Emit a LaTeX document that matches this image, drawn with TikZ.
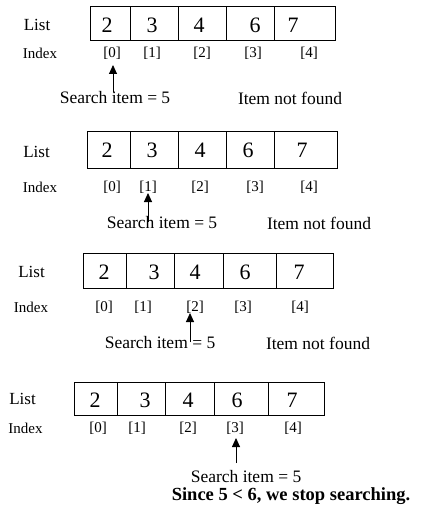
\documentclass[tikz,border=0pt]{standalone}
\usepackage{fontspec}
\setmainfont{Liberation Serif}
\usetikzlibrary{arrows.meta}
\tikzset{
  cellbox/.style={draw, line width=1pt, inner sep=0pt},
  digit/.style={font=\fontsize{22}{24}\selectfont, inner sep=0pt},
  lbl/.style={font=\fontsize{17}{20}\selectfont, inner sep=0pt},
  idxlbl/.style={font=\fontsize{15}{18}\selectfont, inner sep=0pt},
  idx/.style={font=\fontsize{15}{18}\selectfont, inner sep=0pt},
  txt/.style={font=\fontsize{17.5}{20}\selectfont, inner sep=0pt},
  boldtxt/.style={font=\fontsize{18.5}{22}\selectfont\bfseries, inner sep=0pt},
  pointer/.style={line width=0.9pt, -{Triangle[length=9pt,width=8pt]}}
}
\begin{document}
\begin{tikzpicture}[x=1pt,y=-1pt]
\useasboundingbox[fill=white] (0,0) rectangle (439,513);

% ---------- Panel 1 ----------
\node[cellbox, minimum width=40pt, minimum height=34pt] (p1c0) at (110,24) {};
\node[cellbox, minimum width=48pt, minimum height=34pt] (p1c1) at (154,24) {};
\node[cellbox, minimum width=48pt, minimum height=34pt] (p1c2) at (202,24) {};
\node[cellbox, minimum width=48pt, minimum height=34pt] (p1c3) at (250,24) {};
\node[cellbox, minimum width=61pt, minimum height=34pt] (p1c4) at (304.5,24) {};
\node[digit] (p1d0) at (107,25) {2};
\node[digit] (p1d1) at (152,25) {3};
\node[digit] (p1d2) at (199,25) {4};
\node[digit] (p1d3) at (255,25) {6};
\node[digit] (p1d4) at (293,25) {7};
\node[lbl] (p1list) at (37,25) {List};
\node[idxlbl] (p1index) at (40,53) {Index};
\node[idx] (p1i0) at (112,53) {[0]};
\node[idx] (p1i1) at (152,53) {[1]};
\node[idx] (p1i2) at (202,53) {[2]};
\node[idx] (p1i3) at (253,53) {[3]};
\node[idx] (p1i4) at (309,53) {[4]};
\coordinate (p1at) at (113,65);
\coordinate (p1ab) at (113,92);
\draw[pointer] (p1ab) -- (p1at);
\node[txt] (p1s) at (115,98) {Search item = 5};
\node[txt] (p1n) at (290,98) {Item not found};

% ---------- Panel 2 ----------
\node[cellbox, minimum width=43pt, minimum height=36pt] (p2c0) at (108.5,150) {};
\node[cellbox, minimum width=48pt, minimum height=36pt] (p2c1) at (154,150) {};
\node[cellbox, minimum width=48pt, minimum height=36pt] (p2c2) at (202,150) {};
\node[cellbox, minimum width=48pt, minimum height=36pt] (p2c3) at (250,150) {};
\node[cellbox, minimum width=63pt, minimum height=36pt] (p2c4) at (305.5,150) {};
\node[digit] (p2d0) at (107,150.5) {2};
\node[digit] (p2d1) at (152,150.5) {3};
\node[digit] (p2d2) at (200,150.5) {4};
\node[digit] (p2d3) at (248,150.5) {6};
\node[digit] (p2d4) at (302,150.5) {7};
\node[lbl] (p2list) at (36.5,152) {List};
\node[idxlbl] (p2index) at (40,187) {Index};
\node[idx] (p2i0) at (112,187) {[0]};
\node[idx] (p2i1) at (148,187) {[1]};
\node[idx] (p2i2) at (200,187) {[2]};
\node[idx] (p2i3) at (255,187) {[3]};
\node[idx] (p2i4) at (309,187) {[4]};
\coordinate (p2at) at (148,193);
\coordinate (p2ab) at (148,222);
\draw[pointer] (p2ab) -- (p2at);
\node[txt] (p2s) at (162,223) {Search item = 5};
\node[txt] (p2n) at (319,223) {Item not found};

% ---------- Panel 3 ----------
\node[cellbox, minimum width=43pt, minimum height=35pt] (p3c0) at (104.5,270.5) {};
\node[cellbox, minimum width=48pt, minimum height=35pt] (p3c1) at (150,270.5) {};
\node[cellbox, minimum width=49pt, minimum height=35pt] (p3c2) at (198.5,270.5) {};
\node[cellbox, minimum width=53pt, minimum height=35pt] (p3c3) at (249.5,270.5) {};
\node[cellbox, minimum width=57pt, minimum height=35pt] (p3c4) at (304.5,270.5) {};
\node[digit] (p3d0) at (104,272.5) {2};
\node[digit] (p3d1) at (154,272.5) {3};
\node[digit] (p3d2) at (195,272.5) {4};
\node[digit] (p3d3) at (245,272.5) {6};
\node[digit] (p3d4) at (299,272.5) {7};
\node[lbl] (p3list) at (31.5,272) {List};
\node[idxlbl] (p3index) at (31,307) {Index};
\node[idx] (p3i0) at (104,307) {[0]};
\node[idx] (p3i1) at (143,307) {[1]};
\node[idx] (p3i2) at (195,307) {[2]};
\node[idx] (p3i3) at (243,307) {[3]};
\node[idx] (p3i4) at (300,307) {[4]};
\coordinate (p3at) at (190,313);
\coordinate (p3ab) at (190,342);
\draw[pointer] (p3ab) -- (p3at);
\node[txt] (p3s) at (160,343) {Search item = 5};
\node[txt] (p3n) at (318,343) {Item not found};

% ---------- Panel 4 ----------
\node[cellbox, minimum width=43pt, minimum height=33pt] (p4c0) at (95.5,398.5) {};
\node[cellbox, minimum width=48pt, minimum height=33pt] (p4c1) at (141,398.5) {};
\node[cellbox, minimum width=49pt, minimum height=33pt] (p4c2) at (189.5,398.5) {};
\node[cellbox, minimum width=54pt, minimum height=33pt] (p4c3) at (241,398.5) {};
\node[cellbox, minimum width=56pt, minimum height=33pt] (p4c4) at (296,398.5) {};
\node[digit] (p4d0) at (95,400) {2};
\node[digit] (p4d1) at (145,400) {3};
\node[digit] (p4d2) at (188,400) {4};
\node[digit] (p4d3) at (237,400) {6};
\node[digit] (p4d4) at (292,400) {7};
\node[lbl] (p4list) at (22.5,399) {List};
\node[idxlbl] (p4index) at (25.5,428) {Index};
\node[idx] (p4i0) at (98,428) {[0]};
\node[idx] (p4i1) at (137,428) {[1]};
\node[idx] (p4i2) at (188,428) {[2]};
\node[idx] (p4i3) at (235,428) {[3]};
\node[idx] (p4i4) at (293,428) {[4]};
\coordinate (p4at) at (236,438);
\coordinate (p4ab) at (236,463);
\draw[pointer] (p4ab) -- (p4at);
\node[txt] (p4s) at (246,477) {Search item = 5};
\node[boldtxt] (p4b) at (291,496) {Since 5 < 6, we stop searching.};
\end{tikzpicture}
\end{document}
